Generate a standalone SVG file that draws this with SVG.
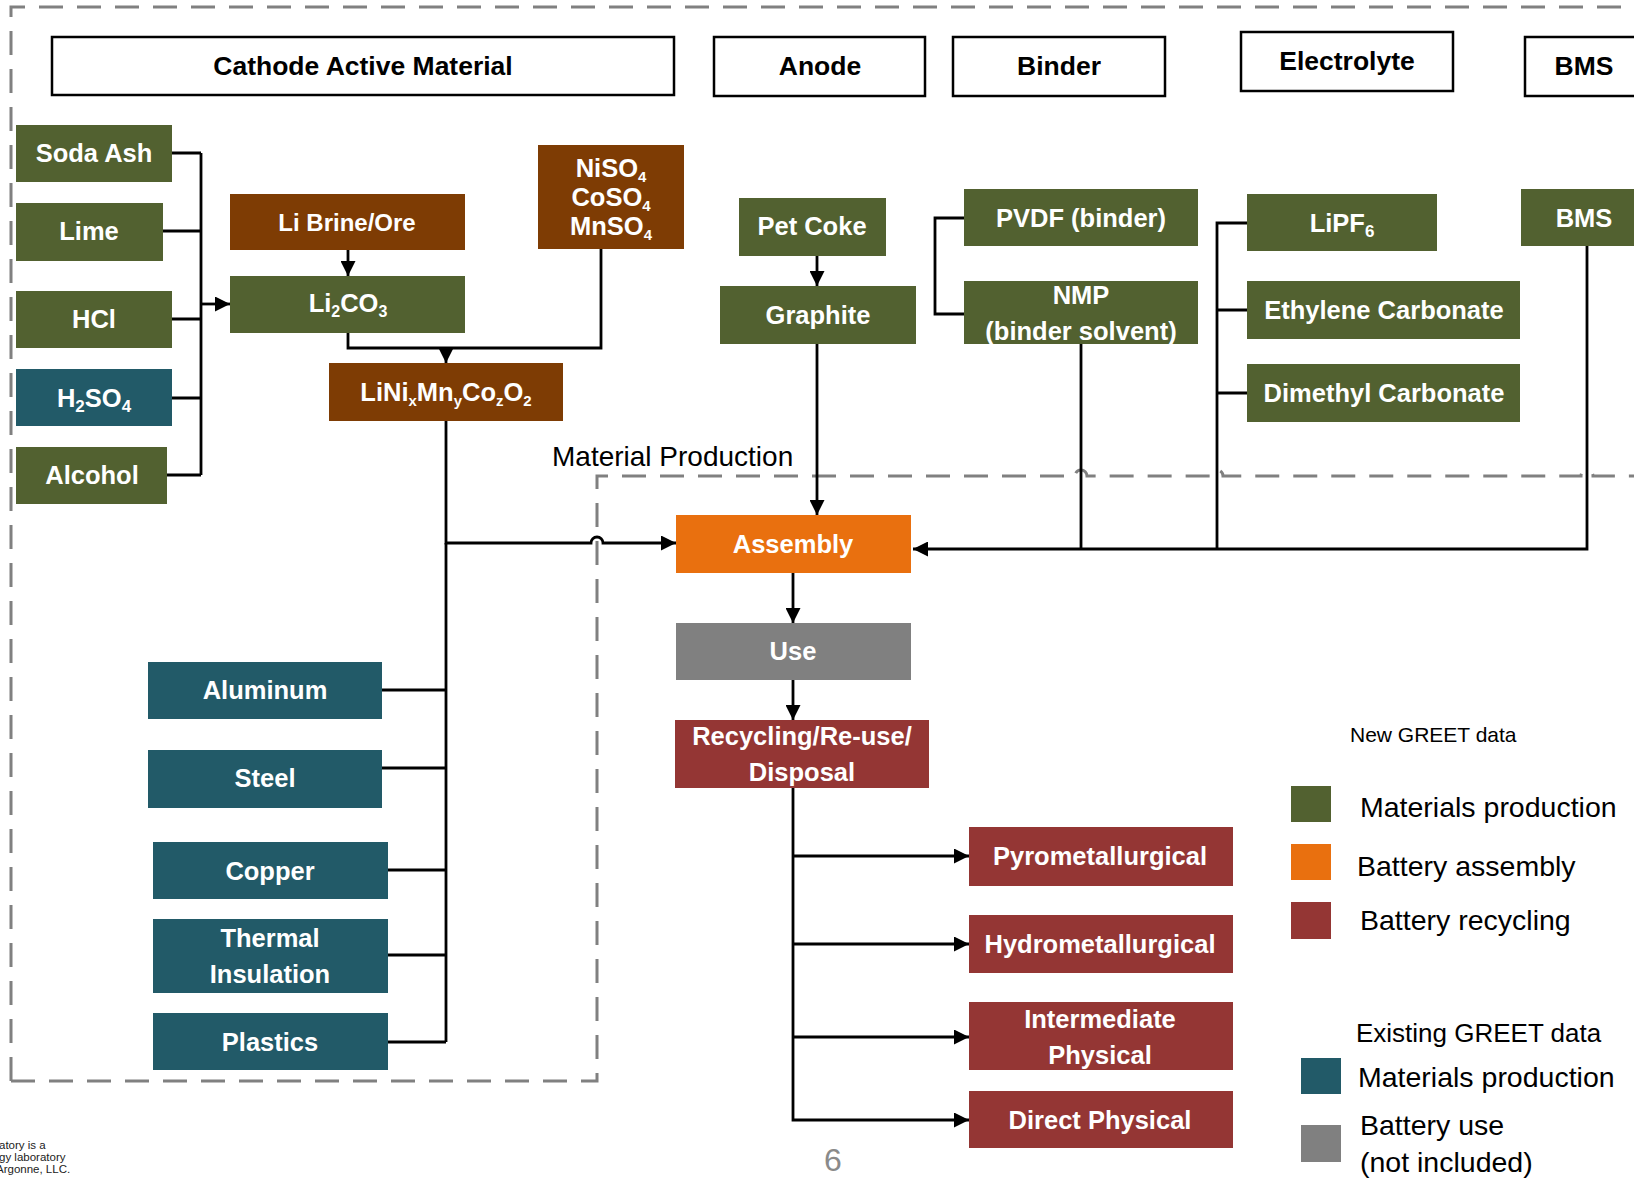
<svg xmlns="http://www.w3.org/2000/svg" width="1634" height="1178" viewBox="0 0 1634 1178">
<defs>
<style>
.hdr rect{fill:#fff;stroke:#000;stroke-width:2.5}
.hdr text{font-family:"Liberation Sans",Arial,sans-serif;font-weight:bold;font-size:26.5px;fill:#000;text-anchor:middle}
.nd text{font-family:"Liberation Sans",Arial,sans-serif;font-weight:bold;font-size:25.5px;fill:#fff;text-anchor:middle}
.g{fill:#526130}.b{fill:#7E3C04}.t{fill:#225A68}.o{fill:#E9700F}.r{fill:#943634}.gy{fill:#808080}
.con path{fill:none;stroke:#000;stroke-width:2.8}
.dash{fill:none;stroke:#808080;stroke-width:3;stroke-dasharray:24 14}
.lg{font-family:"Liberation Sans",Arial,sans-serif;fill:#000}
</style>
<marker id="ah" viewBox="0 0 12 12" refX="12" refY="6" markerWidth="16" markerHeight="15" markerUnits="userSpaceOnUse" orient="auto">
<path d="M0,0 L12,6 L0,12 z" fill="#000"/>
</marker>
</defs>
<rect width="1634" height="1178" fill="#fff"/>

<!-- dashed boundaries -->
<g id="boundary">
<path class="dash" d="M11,1081 V7 H1640"/>
<path class="dash" d="M11,1081 H597 V476 H1075 a6,6 0 0 1 12,0 H1211 a6,6 0 0 1 12,0 H1581 a6,6 0 0 1 12,0 H1640"/>
<text x="552" y="466" font-family="Liberation Sans, Arial, sans-serif" font-size="28" fill="#000">Material Production</text>
</g>

<!-- headers -->
<g id="h-cathode" class="hdr"><rect x="52" y="37" width="622" height="58"/><text x="363" y="75">Cathode Active Material</text></g>
<g id="h-anode" class="hdr"><rect x="714" y="37" width="211" height="59"/><text x="820" y="75">Anode</text></g>
<g id="h-binder" class="hdr"><rect x="953" y="37" width="212" height="59"/><text x="1059" y="75">Binder</text></g>
<g id="h-electrolyte" class="hdr"><rect x="1241" y="32" width="212" height="59"/><text x="1347" y="70">Electrolyte</text></g>
<g id="h-bms" class="hdr"><rect x="1525" y="37" width="130" height="59"/><text x="1584" y="75">BMS</text></g>

<!-- connectors -->
<g id="connectors" class="con">
<path d="M172,153 H201 M163,231 H201 M172,319 H201 M172,398 H201 M167,475 H201 M201,153 V475"/>
<path d="M201,304 H230" marker-end="url(#ah)"/>
<path d="M348,250 V276" marker-end="url(#ah)"/>
<path d="M348,333 V348 H601 V249"/>
<path d="M446,348 V363" marker-end="url(#ah)"/>
<path d="M446,421 V543 H591 a6,6 0 0 1 12,0 H676" marker-end="url(#ah)"/>
<path d="M446,543 V1042"/>
<path d="M382,690 H446 M382,768 H446 M388,870 H446 M388,955 H446 M388,1042 H446"/>
<path d="M817,256 V286" marker-end="url(#ah)"/>
<path d="M817,344 V515" marker-end="url(#ah)"/>
<path d="M964,218 H935 V314 H964"/>
<path d="M1081,344 V549"/>
<path d="M1247,223 H1217 V549 M1217,310 H1247 M1217,393 H1247"/>
<path d="M1587,246 V549 H913" marker-end="url(#ah)"/>
<path d="M793,573 V623" marker-end="url(#ah)"/>
<path d="M793,680 V720" marker-end="url(#ah)"/>
<path d="M793,788 V1120 H969" marker-end="url(#ah)"/>
<path d="M793,856 H969" marker-end="url(#ah)"/>
<path d="M793,944 H969" marker-end="url(#ah)"/>
<path d="M793,1037 H969" marker-end="url(#ah)"/>
</g>

<!-- left raw materials -->
<g id="n-soda-ash" class="nd"><rect class="g" x="16" y="125" width="156" height="57"/><text x="94" y="162">Soda Ash</text></g>
<g id="n-lime" class="nd"><rect class="g" x="16" y="203" width="147" height="58"/><text x="89" y="240">Lime</text></g>
<g id="n-hcl" class="nd"><rect class="g" x="16" y="291" width="156" height="57"/><text x="94" y="328">HCl</text></g>
<g id="n-h2so4" class="nd"><rect class="t" x="16" y="369" width="156" height="57"/><text x="94" y="407">H<tspan font-size="17" dy="5">2</tspan><tspan dy="-5">SO</tspan><tspan font-size="17" dy="5">4</tspan></text></g>
<g id="n-alcohol" class="nd"><rect class="g" x="16" y="447" width="151" height="57"/><text x="92" y="484">Alcohol</text></g>

<g id="n-li-brine" class="nd"><rect class="b" x="230" y="194" width="235" height="56"/><text x="347" y="231" style="font-size:24px">Li Brine/Ore</text></g>
<g id="n-li2co3" class="nd"><rect class="g" x="230" y="276" width="235" height="57"/><text x="348" y="312">Li<tspan font-size="16" dy="5">2</tspan><tspan dy="-5">CO</tspan><tspan font-size="16" dy="5">3</tspan></text></g>
<g id="n-sulfates" class="nd"><rect class="b" x="538" y="145" width="146" height="104"/>
<text x="611" y="177">NiSO<tspan font-size="15" dy="5">4</tspan></text>
<text x="611" y="206">CoSO<tspan font-size="15" dy="5">4</tspan></text>
<text x="611" y="235">MnSO<tspan font-size="15" dy="5">4</tspan></text></g>
<g id="n-nmc" class="nd"><rect class="b" x="329" y="363" width="234" height="58"/><text x="446" y="401">LiNi<tspan font-size="15" dy="5">x</tspan><tspan dy="-5">Mn</tspan><tspan font-size="15" dy="5">y</tspan><tspan dy="-5">Co</tspan><tspan font-size="15" dy="5">z</tspan><tspan dy="-5">O</tspan><tspan font-size="15" dy="5">2</tspan></text></g>

<!-- anode -->
<g id="n-pet-coke" class="nd"><rect class="g" x="739" y="198" width="147" height="58"/><text x="812" y="235">Pet Coke</text></g>
<g id="n-graphite" class="nd"><rect class="g" x="720" y="286" width="196" height="58"/><text x="818" y="324">Graphite</text></g>

<!-- binder -->
<g id="n-pvdf" class="nd"><rect class="g" x="964" y="189" width="234" height="57"/><text x="1081" y="227">PVDF (binder)</text></g>
<g id="n-nmp" class="nd"><rect class="g" x="964" y="281" width="234" height="63"/><text x="1081" y="304">NMP</text><text x="1081" y="340">(binder solvent)</text></g>

<!-- electrolyte -->
<g id="n-lipf6" class="nd"><rect class="g" x="1247" y="194" width="190" height="57"/><text x="1342" y="232">LiPF<tspan font-size="17" dy="5">6</tspan></text></g>
<g id="n-ec" class="nd"><rect class="g" x="1247" y="281" width="273" height="58"/><text x="1384" y="319">Ethylene Carbonate</text></g>
<g id="n-dmc" class="nd"><rect class="g" x="1247" y="364" width="273" height="58"/><text x="1384" y="402">Dimethyl Carbonate</text></g>

<!-- BMS -->
<g id="n-bms" class="nd"><rect class="g" x="1521" y="189" width="120" height="57"/><text x="1584" y="227">BMS</text></g>

<!-- existing materials -->
<g id="n-aluminum" class="nd"><rect class="t" x="148" y="662" width="234" height="57"/><text x="265" y="699">Aluminum</text></g>
<g id="n-steel" class="nd"><rect class="t" x="148" y="750" width="234" height="58"/><text x="265" y="787">Steel</text></g>
<g id="n-copper" class="nd"><rect class="t" x="153" y="842" width="235" height="57"/><text x="270" y="880">Copper</text></g>
<g id="n-thermal" class="nd"><rect class="t" x="153" y="919" width="235" height="74"/><text x="270" y="947">Thermal</text><text x="270" y="983">Insulation</text></g>
<g id="n-plastics" class="nd"><rect class="t" x="153" y="1013" width="235" height="57"/><text x="270" y="1051">Plastics</text></g>

<!-- lifecycle -->
<g id="n-assembly" class="nd"><rect class="o" x="676" y="515" width="235" height="58"/><text x="793" y="553">Assembly</text></g>
<g id="n-use" class="nd"><rect class="gy" x="676" y="623" width="235" height="57"/><text x="793" y="660">Use</text></g>
<g id="n-recycling" class="nd"><rect class="r" x="675" y="720" width="254" height="68"/><text x="802" y="745">Recycling/Re-use/</text><text x="802" y="781">Disposal</text></g>
<g id="n-pyro" class="nd"><rect class="r" x="969" y="827" width="264" height="59"/><text x="1100" y="865">Pyrometallurgical</text></g>
<g id="n-hydro" class="nd"><rect class="r" x="969" y="915" width="264" height="58"/><text x="1100" y="953">Hydrometallurgical</text></g>
<g id="n-intermediate" class="nd"><rect class="r" x="969" y="1002" width="264" height="68"/><text x="1100" y="1028">Intermediate</text><text x="1100" y="1064">Physical</text></g>
<g id="n-direct" class="nd"><rect class="r" x="969" y="1091" width="264" height="57"/><text x="1100" y="1129">Direct Physical</text></g>

<!-- legend -->
<g id="legend">
<text class="lg" x="1350" y="742" font-size="21">New GREET data</text>
<rect class="g" x="1291" y="786" width="40" height="36"/>
<text class="lg" x="1360" y="817" font-size="28.5">Materials production</text>
<rect class="o" x="1291" y="844" width="40" height="36"/>
<text class="lg" x="1357" y="876" font-size="28.5">Battery assembly</text>
<rect class="r" x="1291" y="902" width="40" height="37"/>
<text class="lg" x="1360" y="930" font-size="28.5">Battery recycling</text>
<text class="lg" x="1356" y="1042" font-size="26">Existing GREET data</text>
<rect class="t" x="1301" y="1058" width="40" height="36"/>
<text class="lg" x="1358" y="1087" font-size="28.5">Materials production</text>
<rect class="gy" x="1301" y="1125" width="40" height="37"/>
<text class="lg" x="1360" y="1135" font-size="28.5">Battery use</text>
<text class="lg" x="1360" y="1172" font-size="28.5">(not included)</text>
</g>

<!-- footer -->
<text x="833" y="1171" font-family="Liberation Sans, Arial, sans-serif" font-size="32" fill="#8a8a8a" text-anchor="middle">6</text>
<g font-family="Liberation Sans, Arial, sans-serif" font-size="11.5" fill="#222">
<text x="-1" y="1149">atory is a</text>
<text x="-1" y="1161">gy laboratory</text>
<text x="-4" y="1173">Argonne, LLC.</text>
</g>
</svg>
